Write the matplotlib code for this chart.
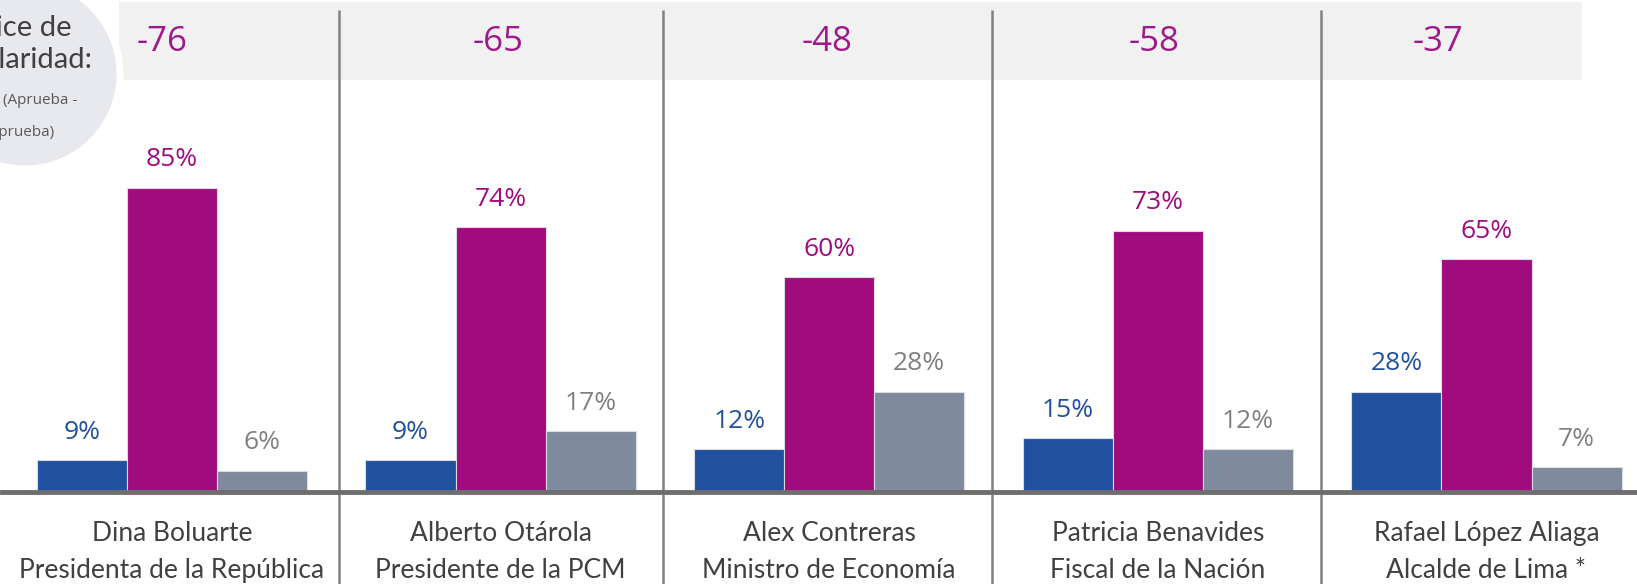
import matplotlib
matplotlib.use("Agg")
import matplotlib.pyplot as plt
from matplotlib.patches import Circle, Rectangle
import numpy as np

# Data
people = ["Dina Boluarte\nPresidenta de la República",
          "Alberto Otárola\nPresidente de la PCM",
          "Alex Contreras\nMinistro de Economía",
          "Patricia Benavides\nFiscal de la Nación",
          "Rafael López Aliaga\nAlcalde de Lima *"]
aprueba = [9, 9, 12, 15, 28]
desaprueba = [85, 74, 60, 73, 65]
no_precisa = [6, 17, 28, 12, 7]
indice = [-76, -65, -48, -58, -37]

BLUE = "#20509E"
MAGENTA = "#A00B7E"
GRAY = "#7F8A9C"
TXT = "#404040"

plt.rcParams['font.family'] = ['Open Sans', 'DejaVu Sans']
LABEL_FONT = ['Lato', 'DejaVu Sans']

fig = plt.figure(figsize=(16.37, 5.84), dpi=100)
fig.patch.set_facecolor('white')
ax = fig.add_axes([0, 0.1575, 1, 0.8425])
ax.set_xlim(-0.523, 4.458)
ax.set_ylim(0, 137.4)
for s in ax.spines.values():
    s.set_visible(False)
ax.set_yticks([])

x = np.arange(len(people))
w = 0.274

# header band
ax.add_patch(Rectangle((-0.161, 115.1), 4.29 + 0.161, 21.8,
                       facecolor="#F1F1F1", edgecolor='none', zorder=0))

series = [(aprueba, -w, BLUE, BLUE), (desaprueba, 0, MAGENTA, MAGENTA),
          (no_precisa, w, GRAY, "#808080")]
for vals, off, col, tcol in series:
    bars = ax.bar(x + off, vals, width=w, color=col, edgecolor="#D9DCE3",
                  linewidth=0.8, zorder=2)
    for b, v in zip(bars, vals):
        ax.annotate(f"{v}%", (b.get_x() + b.get_width() / 2, v),
                    xytext=(0, 20), textcoords='offset points',
                    ha='center', va='center', fontsize=19, color=tcol)

# baseline
ax.axhline(0, xmin=0.0015, xmax=1, color="#6E6E6E", lw=3.5, zorder=3,
           clip_on=False)

# separators
sep_x = [0.51, 1.495, 2.495, 3.495]
ax.vlines(sep_x, -25.7, 134.6, color="#808080", lw=1.8,
          clip_on=False, zorder=1)

# index numbers in header
header_off = [-0.03, -0.006, -0.006, -0.012, -0.149]
for xi, v, o in zip(x, indice, header_off):
    ax.text(xi + o, 125.7, f"{v}", ha='center', va='center', fontsize=25,
            color="#A0198A", zorder=4)

# category labels
ax.set_xticks(x)
ax.set_xticklabels(people, fontsize=19, color=TXT, linespacing=1.58,
                   family=LABEL_FONT)
ax.tick_params(axis='x', length=0, pad=21)

# circle with legend of the index
tr = fig.dpi_scale_trans
fig.patches.append(Circle((0.25, 5.10), 0.95, transform=tr,
                          facecolor="#E8E9EE", edgecolor='white', lw=5,
                          zorder=5))
fig.text(0.72, 5.56, "Índice de", transform=tr, ha='right', va='center',
         fontsize=21, color=TXT, zorder=6, family=LABEL_FONT)
fig.text(0.92, 5.24, "Popularidad:", transform=tr, ha='right', va='center',
         fontsize=21, color=TXT, zorder=6, family=LABEL_FONT)
fig.text(0.77, 4.84, "(Aprueba -", transform=tr, ha='right', va='center',
         fontsize=11, color="#595959", zorder=6)
fig.text(0.55, 4.52, "Desaprueba)", transform=tr, ha='right', va='center',
         fontsize=11, color="#595959", zorder=6)

fig.savefig("out.png", dpi=100, facecolor='white')
